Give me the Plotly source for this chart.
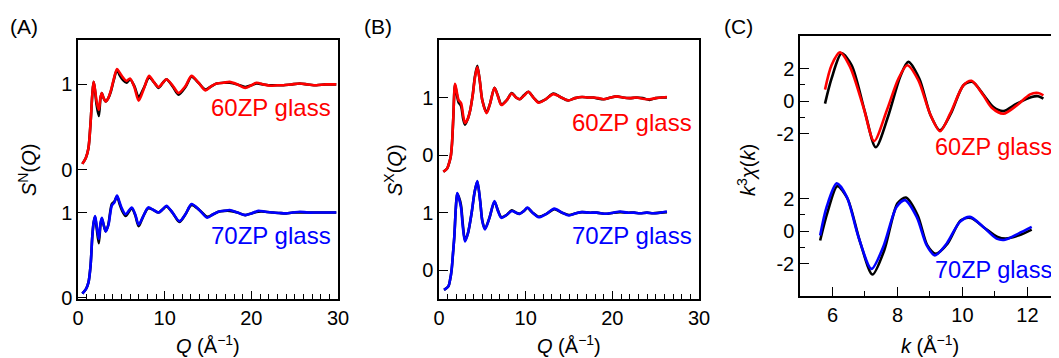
import plotly.graph_objects as go

W, H = 1059, 358
FONT = "Liberation Sans, Arial, Helvetica, sans-serif"
RED, BLUE, BLACK = "#ff0000", "#0000ff", "#000000"

# ---------------- Panel A: neutron S(Q) ----------------
Q_A60 = [0.5, 0.9, 1.2, 1.45, 1.65, 1.8, 1.95, 2.15, 2.4, 2.6, 2.75, 2.95, 3.2, 3.5, 3.8, 4.1, 4.5, 4.8, 5.2, 5.6,
         6.0, 6.5, 7.0, 7.6, 8.2, 8.8, 9.3, 9.8, 10.2, 10.9, 11.6, 12.4, 13.1, 13.9, 14.7, 15.4, 16.0, 16.8, 17.5, 18.4,
         19.3, 20.0, 20.6, 21.4, 22.2, 23.0, 23.7, 24.6, 25.6, 26.5, 27.5, 28.6, 29.8]
SN_60_exp = [0.07, 0.14, 0.25, 0.55, 0.88, 1.03, 0.95, 0.8, 0.70, 0.85, 0.9, 0.84, 0.80, 0.84, 0.93, 1.05, 1.18, 1.14, 1.08, 1.04,
             1.07, 0.97, 0.81, 0.95, 1.10, 1.02, 0.97, 1.02, 1.06, 0.99, 0.90, 0.98, 1.10, 1.02, 0.93, 0.98, 1.01, 1.02, 1.03, 1.0,
             0.96, 0.99, 1.02, 1.0, 0.985, 0.99, 0.99, 1.0, 1.01, 1.0, 0.99, 1.0, 1.0]
SN_60_sim = [0.07, 0.14, 0.25, 0.55, 0.88, 1.03, 0.94, 0.76, 0.63, 0.84, 0.9, 0.84, 0.80, 0.84, 0.92, 1.04, 1.17, 1.11, 1.05, 1.02,
             1.06, 0.98, 0.85, 0.96, 1.08, 1.02, 0.96, 1.02, 1.06, 0.98, 0.88, 0.97, 1.09, 1.02, 0.94, 0.98, 1.01, 1.02, 1.02, 1.0,
             0.97, 0.99, 1.01, 1.0, 0.99, 0.99, 0.99, 1.0, 1.01, 1.0, 0.99, 1.0, 1.0]

Q_A70 = [0.5, 0.9, 1.2, 1.45, 1.65, 1.8, 1.97, 2.15, 2.4, 2.6, 2.75, 2.95, 3.2, 3.5, 3.9, 4.2, 4.5, 4.8, 5.1, 5.5,
         6.2, 6.6, 7.0, 7.5, 8.1, 8.7, 9.3, 9.8, 10.2, 10.9, 11.7, 12.4, 13.1, 14.0, 14.9, 15.6, 16.2, 16.9, 17.5, 18.4,
         19.3, 20.0, 20.8, 21.6, 22.5, 23.2, 24.0, 24.8, 25.6, 26.5, 27.5, 28.6, 29.8]
SN_70_exp = [0.05, 0.1, 0.18, 0.38, 0.72, 0.88, 0.96, 0.85, 0.69, 0.88, 0.94, 0.86, 0.78, 0.85, 1.08, 1.12, 1.2, 1.12, 1.04, 0.98,
             1.06, 0.98, 0.86, 0.95, 1.06, 1.03, 1.0, 1.04, 1.08, 1.0, 0.9, 0.98, 1.1, 1.03, 0.94, 0.98, 1.01, 1.02, 1.03, 1.0,
             0.97, 0.99, 1.02, 1.01, 1.0, 0.995, 0.99, 1.0, 1.01, 1.0, 1.0, 1.0, 1.0]
SN_70_sim = [0.05, 0.1, 0.18, 0.38, 0.72, 0.88, 0.95, 0.82, 0.64, 0.86, 0.93, 0.86, 0.78, 0.86, 1.1, 1.13, 1.19, 1.1, 1.02, 0.96,
             1.05, 0.97, 0.84, 0.95, 1.05, 1.03, 1.0, 1.04, 1.07, 1.0, 0.89, 0.98, 1.09, 1.03, 0.95, 0.98, 1.01, 1.02, 1.02, 1.0,
             0.97, 0.99, 1.01, 1.01, 1.0, 0.995, 0.99, 1.0, 1.0, 1.0, 1.0, 1.0, 1.0]

# ---------------- Panel B: X-ray S(Q) ----------------
Q_B60 = [0.5, 0.95, 1.2, 1.35, 1.5, 1.65, 1.85, 2.05, 2.25, 2.55, 2.8, 3.0, 3.3, 3.6, 3.9, 4.15, 4.42, 4.7, 5.0, 5.5,
         5.9, 6.4, 6.8, 7.2, 7.8, 8.4, 8.9, 9.3, 9.8, 10.3, 10.9, 11.5, 12.3, 13.2, 14.0, 14.9, 15.7, 16.5, 17.2, 17.8,
         18.4, 19.0, 19.8, 20.5, 21.2, 22.0, 22.8, 23.5, 24.3, 25.0, 25.7, 26.3]
SX_60_exp = [-0.29, -0.23, -0.12, -0.03, 0.2, 0.65, 1.24, 1.1, 0.96, 0.9, 0.68, 0.56, 0.62, 0.78, 1.05, 1.35, 1.53, 1.3, 0.95, 0.73,
             0.9, 1.17, 1.02, 0.87, 0.95, 1.07, 1.0, 0.97, 1.03, 1.1, 1.0, 0.91, 0.97, 1.06, 1.01, 0.95, 0.99, 1.01, 1.0, 1.0,
             0.99, 0.97, 1.0, 1.02, 1.0, 0.99, 1.0, 0.98, 0.97, 0.99, 1.0, 1.01]
SX_60_sim = [-0.29, -0.23, -0.12, -0.03, 0.2, 0.65, 1.22, 1.06, 0.92, 0.85, 0.62, 0.53, 0.62, 0.78, 1.06, 1.37, 1.55, 1.3, 0.95, 0.74,
             0.9, 1.17, 1.03, 0.88, 0.95, 1.08, 1.0, 0.97, 1.04, 1.1, 1.0, 0.92, 0.97, 1.07, 1.01, 0.95, 0.99, 1.01, 1.0, 1.0,
             0.98, 0.97, 1.0, 1.02, 1.0, 0.99, 1.0, 0.99, 0.96, 0.99, 1.0, 1.0]

Q_B70 = [0.58, 1.08, 1.3, 1.46, 1.62, 1.77, 1.95, 2.1, 2.3, 2.54, 2.75, 3.0, 3.35, 3.77, 4.1, 4.42, 4.75, 5.0, 5.3, 5.8,
         6.4, 6.8, 7.2, 7.8, 8.4, 8.9, 9.3, 9.8, 10.2, 10.8, 11.5, 12.4, 13.3, 14.2, 15.0, 15.8, 16.5, 17.3, 18.2, 19.3,
         20.1, 20.9, 21.7, 22.5, 23.2, 24.0, 24.7, 25.5, 26.3]
SX_70_exp = [-0.34, -0.28, -0.15, 0.01, 0.3, 0.59, 1.1, 1.34, 1.25, 1.09, 0.75, 0.5, 0.65, 1.0, 1.35, 1.55, 1.2, 0.85, 0.71, 0.9,
             1.2, 1.03, 0.91, 0.96, 1.03, 1.0, 0.98, 1.03, 1.09, 1.0, 0.92, 0.98, 1.07, 1.0, 0.95, 0.99, 1.01, 1.0, 1.0, 0.98,
             1.0, 1.02, 1.0, 1.0, 0.99, 1.0, 0.99, 1.0, 1.02]
SX_70_sim = [-0.34, -0.28, -0.15, 0.01, 0.3, 0.59, 1.1, 1.33, 1.27, 1.13, 0.8, 0.52, 0.65, 1.0, 1.35, 1.54, 1.2, 0.86, 0.72, 0.9,
             1.19, 1.04, 0.92, 0.96, 1.04, 1.0, 0.98, 1.03, 1.08, 1.0, 0.93, 0.98, 1.06, 1.0, 0.96, 0.99, 1.01, 1.0, 1.0, 0.98,
             1.0, 1.01, 1.0, 1.0, 0.99, 1.0, 0.99, 1.0, 1.01]

# ---------------- Panel C: k^3 chi(k) ----------------
k_60_exp = [5.77, 5.97, 6.23, 6.54, 6.95, 7.28, 7.67, 8.03, 8.3, 8.64, 9.0, 9.31, 9.62, 10.03, 10.28, 10.64, 10.9, 11.26, 11.67, 12.08, 12.33, 12.49]
chi_60_exp = [0.7, 2.2, 2.99, 2.1, -0.37, -2.47, -0.58, 1.38, 2.2, 1.28, -0.78, -1.86, -0.78, 0.97, 1.24, 0.35, -0.41, -0.78, -0.27, 0.41, 0.49, 0.35]
k_60_sim = [5.77, 5.97, 6.28, 6.59, 7.0, 7.33, 7.72, 8.08, 8.33, 8.67, 9.02, 9.31, 9.64, 10.03, 10.3, 10.66, 10.95, 11.26, 11.67, 12.13, 12.33, 12.49]
chi_60_sim = [-0.16, 1.38, 2.93, 2.2, -0.68, -2.85, -0.89, 1.48, 2.41, 1.38, -0.89, -1.81, -0.78, 0.97, 1.18, 0.35, -0.37, -0.62, -0.16, 0.25, 0.29, 0.14]

k_70_exp = [5.62, 5.82, 6.13, 6.44, 6.8, 7.2, 7.56, 7.97, 8.23, 8.59, 8.9, 9.15, 9.51, 9.92, 10.23, 10.64, 11.05, 11.31, 11.72, 12.13]
chi_70_exp = [-0.27, 1.48, 2.93, 2.1, -0.37, -2.33, -0.99, 1.48, 1.9, 0.87, -0.89, -1.5, -0.78, 0.56, 0.87, 0.25, -0.47, -0.54, -0.16, 0.25]
k_70_sim = [5.62, 5.85, 6.15, 6.46, 6.85, 7.23, 7.59, 8.0, 8.26, 8.62, 8.92, 9.18, 9.54, 9.95, 10.26, 10.67, 11.08, 11.33, 11.74, 12.13]
chi_70_sim = [-0.58, 1.18, 2.76, 2.0, -0.68, -2.68, -1.2, 1.7, 2.06, 0.97, -0.89, -1.4, -0.78, 0.66, 0.8, 0.2, -0.37, -0.47, -0.27, 0.08]

# vertical offsets of the upper (60ZP) curves
OFF_A, OFF_B, OFF_C = 1.5, 2.0, 8.0

fig = go.Figure()


def add(x, y, off, color, xa, ya, w=2.6):
    fig.add_trace(go.Scatter(x=x, y=[v + off for v in y], mode="lines",
                             line=dict(color=color, width=w, shape="spline", smoothing=0.8),
                             xaxis=xa, yaxis=ya, showlegend=False, hoverinfo="skip"))


add(Q_A60, SN_60_sim, OFF_A, BLACK, "x", "y")
add(Q_A60, SN_60_exp, OFF_A, RED, "x", "y")
add(Q_A70, SN_70_sim, 0, BLACK, "x", "y")
add(Q_A70, SN_70_exp, 0, BLUE, "x", "y")

add(Q_B60, SX_60_sim, OFF_B, BLACK, "x2", "y2")
add(Q_B60, SX_60_exp, OFF_B, RED, "x2", "y2")
add(Q_B70, SX_70_sim, 0, BLACK, "x2", "y2")
add(Q_B70, SX_70_exp, 0, BLUE, "x2", "y2")

add(k_60_sim, chi_60_sim, OFF_C, BLACK, "x3", "y3")
add(k_60_exp, chi_60_exp, OFF_C, RED, "x3", "y3")
add(k_70_sim, chi_70_sim, 0, BLACK, "x3", "y3")
add(k_70_exp, chi_70_exp, 0, BLUE, "x3", "y3")

# the page body has an 8 px margin, so screen pixels are shifted by 8
PAGE = 8


def px(x):
    return (x - PAGE) / W


def py(y):
    return 1 - (y - PAGE) / H


tickfont = dict(family=FONT, size=20, color="black")
axis_common = dict(showline=True, linecolor="black", linewidth=1.5, showgrid=False, zeroline=False,
                   automargin=False, ticks="inside", tickcolor="black", tickwidth=1.3, tickfont=tickfont)
minor_q = dict(dtick=1, ticklen=5, ticks="inside", tickcolor="black", tickwidth=1.2)

fig.update_layout(
    width=W, height=H, margin=dict(l=0, r=0, t=0, b=0, autoexpand=False),
    paper_bgcolor="white", plot_bgcolor="white",
    xaxis=dict(axis_common, domain=[px(78), px(338)], range=[0, 30], tickvals=[0, 10, 20, 30], ticklen=8,
               mirror=True, anchor="y", minor=minor_q),
    yaxis=dict(axis_common, domain=[py(299), py(40)], range=[-0.012, 3.02], tickvals=[0, 1, 1.5, 2.5],
               ticktext=["0", "1", "0", "1"], ticklen=9, mirror=True, anchor="x"),
    xaxis2=dict(axis_common, domain=[px(439), px(699)], range=[0, 30], tickvals=[0, 10, 20, 30], ticklen=8,
                mirror=True, anchor="y2", minor=minor_q),
    yaxis2=dict(axis_common, domain=[py(299), py(40)], range=[-0.5, 4.0], tickvals=[0, 1, 2, 3],
                ticktext=["0", "1", "0", "1"], ticklen=9, mirror=True, anchor="x2"),
    xaxis3=dict(axis_common, domain=[px(800), px(1059)], range=[5, 12.97], tickvals=[6, 8, 10, 12], ticklen=9,
                mirror=True, anchor="y3",
                minor=dict(tickmode="array", tickvals=[5, 7, 9, 11], ticklen=5, ticks="inside", tickcolor="black", tickwidth=1.2)),
    yaxis3=dict(axis_common, domain=[py(296), py(36)], range=[-4, 12], tickvals=[-2, 0, 2, 6, 8, 10],
                ticktext=["-2", "0", "2", "-2", "0", "2"], ticklen=9, mirror=False, anchor="x3",
                minor=dict(tickmode="array", tickvals=[-1, 1, 7, 9], ticklen=5, ticks="inside", tickcolor="black", tickwidth=1.2)),
)

annots = []


def text(x, y, s, size=20, color="black", xanchor="center", angle=0):
    annots.append(dict(x=px(x), y=py(y), xref="paper", yref="paper", text=s, showarrow=False,
                       xanchor=xanchor, yanchor="middle", textangle=angle,
                       font=dict(family=FONT, size=size, color=color)))


# panel labels
text(24, 26, "(A)", size=21)
text(378, 26, "(B)", size=21)
text(738, 26, "(C)", size=21)

# sample labels
text(333, 107, "60ZP glass", size=24, color=RED, xanchor="right")
text(333, 235, "70ZP glass", size=24, color=BLUE, xanchor="right")
text(694, 123, "60ZP glass", size=24, color=RED, xanchor="right")
text(694, 235, "70ZP glass", size=24, color=BLUE, xanchor="right")
text(1054, 147, "60ZP glass", size=23.5, color=RED, xanchor="right")
text(1054, 270, "70ZP glass", size=23.5, color=BLUE, xanchor="right")

# axis titles
text(208, 344, "<i>Q</i> (Å<sup>−1</sup>)")
text(569, 344, "<i>Q</i> (Å<sup>−1</sup>)")
text(930, 344, "<i>k</i> (Å<sup>−1</sup>)")
text(27, 170, "<i>S</i><sup>N</sup>(<i>Q</i>)", angle=-90)
text(393, 170, "<i>S</i><sup>X</sup>(<i>Q</i>)", angle=-90)
text(746, 170, "<i>k</i><sup>3</sup><i>χ</i>(<i>k</i>)", angle=-90)

fig.update_layout(annotations=annots)
fig.write_html("out.html")
